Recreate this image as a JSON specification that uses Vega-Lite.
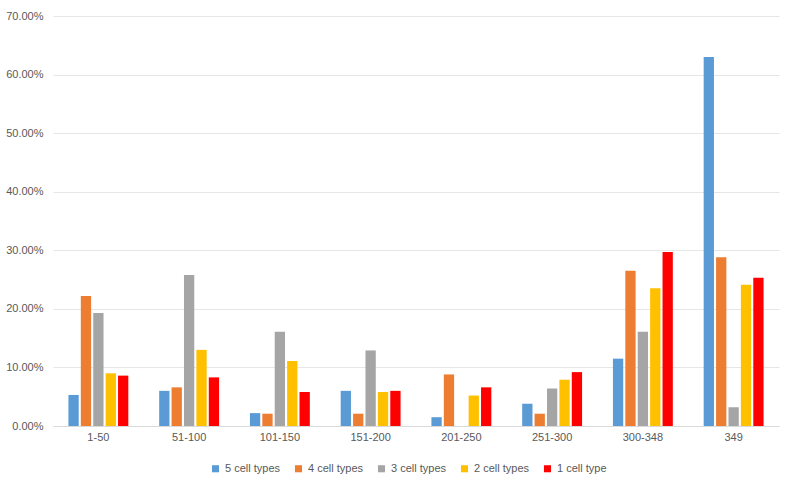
{
  "$schema": "https://vega.github.io/schema/vega-lite/v6.json",
  "width": 726,
  "height": 410,
  "autosize": {"type": "none"},
  "padding": {"left": 53, "right": 8, "top": 16, "bottom": 55},
  "background": "white",
  "config": {
    "font": "Liberation Sans",
    "view": {"stroke": null}
  },
  "data": {
    "values": [
      {"range": "1-50", "series": "5 cell types", "value": 0.053},
      {"range": "1-50", "series": "4 cell types", "value": 0.222},
      {"range": "1-50", "series": "3 cell types", "value": 0.193},
      {"range": "1-50", "series": "2 cell types", "value": 0.090},
      {"range": "1-50", "series": "1 cell type", "value": 0.086},
      {"range": "51-100", "series": "5 cell types", "value": 0.060},
      {"range": "51-100", "series": "4 cell types", "value": 0.066},
      {"range": "51-100", "series": "3 cell types", "value": 0.258},
      {"range": "51-100", "series": "2 cell types", "value": 0.130},
      {"range": "51-100", "series": "1 cell type", "value": 0.083},
      {"range": "101-150", "series": "5 cell types", "value": 0.022},
      {"range": "101-150", "series": "4 cell types", "value": 0.021},
      {"range": "101-150", "series": "3 cell types", "value": 0.161},
      {"range": "101-150", "series": "2 cell types", "value": 0.111},
      {"range": "101-150", "series": "1 cell type", "value": 0.058},
      {"range": "151-200", "series": "5 cell types", "value": 0.060},
      {"range": "151-200", "series": "4 cell types", "value": 0.021},
      {"range": "151-200", "series": "3 cell types", "value": 0.129},
      {"range": "151-200", "series": "2 cell types", "value": 0.058},
      {"range": "151-200", "series": "1 cell type", "value": 0.060},
      {"range": "201-250", "series": "5 cell types", "value": 0.015},
      {"range": "201-250", "series": "4 cell types", "value": 0.088},
      {"range": "201-250", "series": "3 cell types", "value": 0.0},
      {"range": "201-250", "series": "2 cell types", "value": 0.052},
      {"range": "201-250", "series": "1 cell type", "value": 0.066},
      {"range": "251-300", "series": "5 cell types", "value": 0.038},
      {"range": "251-300", "series": "4 cell types", "value": 0.021},
      {"range": "251-300", "series": "3 cell types", "value": 0.064},
      {"range": "251-300", "series": "2 cell types", "value": 0.079},
      {"range": "251-300", "series": "1 cell type", "value": 0.092},
      {"range": "300-348", "series": "5 cell types", "value": 0.115},
      {"range": "300-348", "series": "4 cell types", "value": 0.265},
      {"range": "300-348", "series": "3 cell types", "value": 0.161},
      {"range": "300-348", "series": "2 cell types", "value": 0.235},
      {"range": "300-348", "series": "1 cell type", "value": 0.297},
      {"range": "349", "series": "5 cell types", "value": 0.630},
      {"range": "349", "series": "4 cell types", "value": 0.288},
      {"range": "349", "series": "3 cell types", "value": 0.032},
      {"range": "349", "series": "2 cell types", "value": 0.241},
      {"range": "349", "series": "1 cell type", "value": 0.253}
    ]
  },
  "mark": {"type": "bar"},
  "encoding": {
    "x": {
      "field": "range",
      "type": "nominal",
      "sort": ["1-50", "51-100", "101-150", "151-200", "201-250", "251-300", "300-348", "349"],
      "scale": {"paddingInner": 0.34, "paddingOuter": 0.17},
      "axis": {
        "title": null,
        "labelAngle": 0,
        "labelFontSize": 11,
        "labelColor": "#595959",
        "labelPadding": 5,
        "domainColor": "#D9D9D9",
        "ticks": false
      }
    },
    "xOffset": {
      "field": "series",
      "type": "nominal",
      "sort": ["5 cell types", "4 cell types", "3 cell types", "2 cell types", "1 cell type"],
      "scale": {"paddingInner": 0.17}
    },
    "y": {
      "field": "value",
      "type": "quantitative",
      "scale": {"domain": [0, 0.7]},
      "axis": {
        "title": null,
        "format": ".2%",
        "values": [0, 0.1, 0.2, 0.3, 0.4, 0.5, 0.6, 0.7],
        "labelOverlap": false,
        "labelFontSize": 11,
        "labelColor": "#595959",
        "labelPadding": 10,
        "domain": false,
        "ticks": false,
        "gridColor": "#E6E6E6"
      }
    },
    "color": {
      "field": "series",
      "type": "nominal",
      "sort": ["5 cell types", "4 cell types", "3 cell types", "2 cell types", "1 cell type"],
      "scale": {
        "domain": ["5 cell types", "4 cell types", "3 cell types", "2 cell types", "1 cell type"],
        "range": ["#5B9BD5", "#ED7D31", "#A5A5A5", "#FFC000", "#FF0000"]
      },
      "legend": {
        "orient": "none",
        "legendX": 157,
        "legendY": 447,
        "direction": "horizontal",
        "title": null,
        "symbolType": "square",
        "symbolSize": 50,
        "symbolStrokeWidth": 0,
        "labelFontSize": 11,
        "labelColor": "#595959",
        "columnPadding": 12
      }
    }
  }
}
